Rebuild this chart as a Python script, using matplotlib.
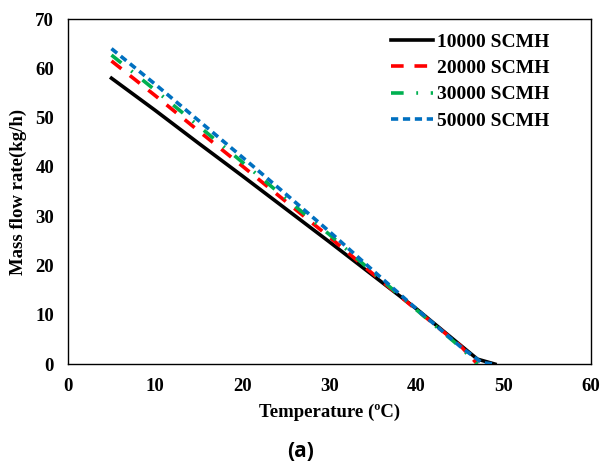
import matplotlib.pyplot as plt

# temperature (degC) and mass flow rate (kg/h) per flow rate case
temp_10000 = [5, 10, 15, 20, 25, 30, 35, 40, 45, 47, 49]
flow_10000 = [58.0, 51.5, 44.8, 38.2, 31.5, 24.8, 18.0, 11.2, 3.9, 1.0, 0.0]

temp_20000 = [5, 10, 15, 20, 25, 30, 35, 40, 45, 47]
flow_20000 = [61.5, 54.5, 47.3, 40.2, 33.0, 25.8, 18.3, 11.0, 3.8, 0.0]

temp_30000 = [5, 10, 15, 20, 25, 30, 35, 40, 45, 47]
flow_30000 = [62.7, 55.6, 48.3, 41.0, 33.6, 26.3, 18.6, 11.0, 3.5, 0.0]

temp_50000 = [5, 10, 15, 20, 25, 30, 35, 40, 45, 47.5, 49]
flow_50000 = [64.0, 56.8, 49.4, 42.0, 34.5, 26.9, 19.0, 11.2, 3.6, 0.3, 0.0]

x_ticks = [0, 10, 20, 30, 40, 50, 60]
y_ticks = [0, 10, 20, 30, 40, 50, 60, 70]

serif = ["Liberation Serif", "DejaVu Serif"]

fig = plt.figure(figsize=(6.01, 4.65), dpi=100)
ax = fig.add_axes([0.113, 0.217, 0.87, 0.742])

ax.plot(temp_10000, flow_10000, color="black", linewidth=2.6, linestyle="-",
        label="10000 SCMH", zorder=3)
ax.plot(temp_20000, flow_20000, color="#ff0000", linewidth=2.6,
        linestyle=(0, (3.5, 3)), label="20000 SCMH", zorder=4)
ax.plot(temp_30000, flow_30000, color="#00b050", linewidth=2.6,
        linestyle=(0, (3.5, 3.5, 0.5, 3.5)), label="30000 SCMH", zorder=5)
ax.plot(temp_50000, flow_50000, color="#0070c0", linewidth=2.6,
        linestyle=(0, (2, 1.3)), label="50000 SCMH", zorder=6)

ax.set_xlim(0, 60)
ax.set_ylim(0, 70)
ax.set_xticks(x_ticks)
ax.set_yticks(y_ticks)
ax.tick_params(length=0, pad=10)
for lab in ax.get_xticklabels() + ax.get_yticklabels():
    lab.set_fontfamily(serif)
    lab.set_fontweight("bold")
    lab.set_fontsize(13.5)

for sp in ax.spines.values():
    sp.set_linewidth(1.0)
    sp.set_color("black")

ax.set_xlabel("Temperature (ºC)", fontfamily=serif, fontweight="bold",
              fontsize=13.5, labelpad=6)
ax.set_ylabel("Mass flow rate(kg/h)", fontfamily=serif, fontweight="bold",
              fontsize=13.5, labelpad=6)

leg = ax.legend(loc="upper right", bbox_to_anchor=(0.955, 1.01), frameon=False,
                prop={"family": serif, "weight": "bold", "size": 14},
                handlelength=2.2, handletextpad=0.2, labelspacing=0.45)

fig.text(0.5, 0.028, "(a)", ha="center", va="center",
         fontfamily=["Open Sans", "DejaVu Sans"], fontweight="bold", fontsize=15)

fig.savefig("out.png", dpi=100)
